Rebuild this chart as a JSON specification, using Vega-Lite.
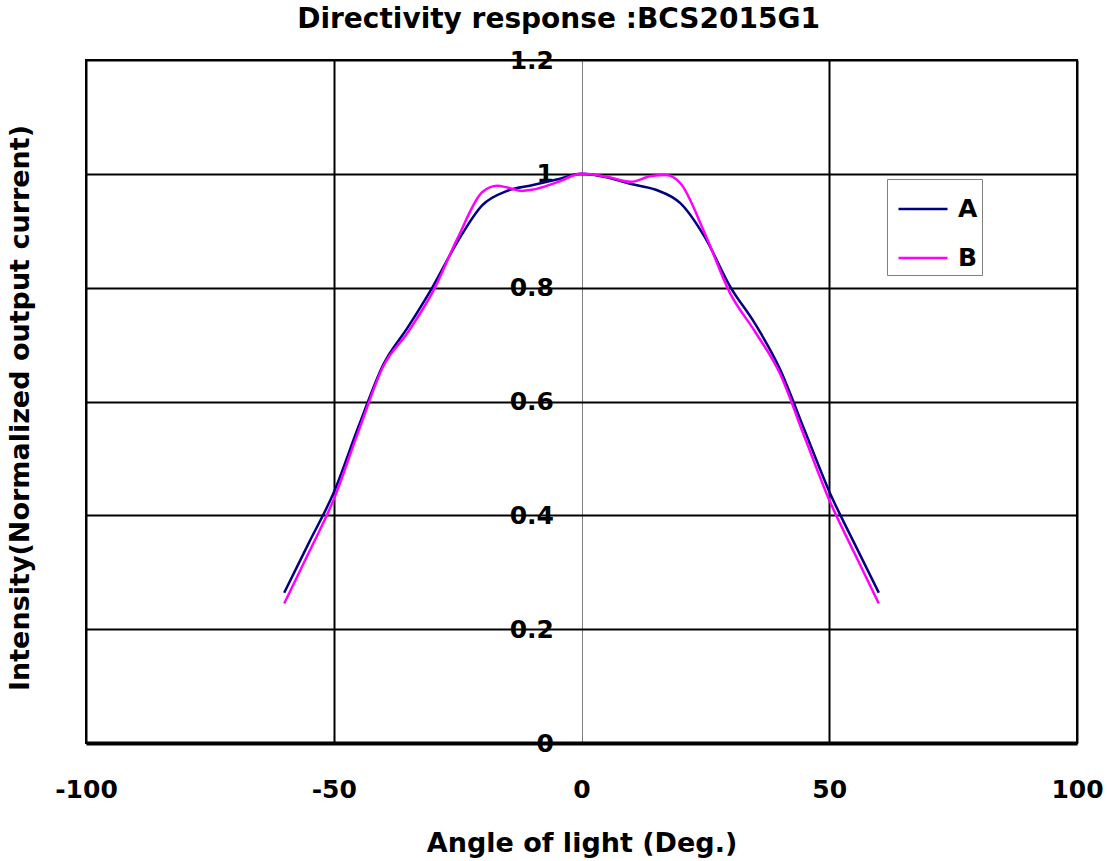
{
  "$schema": "https://vega.github.io/schema/vega-lite/v6.json",
  "autosize": "none",
  "width": 991,
  "height": 683,
  "padding": {"left": 86, "top": 60, "right": 30, "bottom": 118},
  "background": "white",
  "title": {
    "text": "Directivity response :BCS2015G1",
    "font": "DejaVu Sans",
    "fontWeight": "bold",
    "fontSize": 28,
    "color": "black",
    "anchor": "middle",
    "frame": "group",
    "dx": -23,
    "baseline": "alphabetic",
    "offset": -8
  },
  "data": {
    "values": [
      {"angle": -60, "intensity": 0.264, "series": "A"},
      {"angle": -55, "intensity": 0.352, "series": "A"},
      {"angle": -50, "intensity": 0.440, "series": "A"},
      {"angle": -45, "intensity": 0.556, "series": "A"},
      {"angle": -40, "intensity": 0.665, "series": "A"},
      {"angle": -35, "intensity": 0.731, "series": "A"},
      {"angle": -30, "intensity": 0.802, "series": "A"},
      {"angle": -25, "intensity": 0.881, "series": "A"},
      {"angle": -20, "intensity": 0.945, "series": "A"},
      {"angle": -15, "intensity": 0.970, "series": "A"},
      {"angle": -10, "intensity": 0.980, "series": "A"},
      {"angle": -5, "intensity": 0.990, "series": "A"},
      {"angle": 0, "intensity": 1.000, "series": "A"},
      {"angle": 5, "intensity": 0.994, "series": "A"},
      {"angle": 10, "intensity": 0.982, "series": "A"},
      {"angle": 15, "intensity": 0.972, "series": "A"},
      {"angle": 20, "intensity": 0.948, "series": "A"},
      {"angle": 25, "intensity": 0.887, "series": "A"},
      {"angle": 30, "intensity": 0.802, "series": "A"},
      {"angle": 35, "intensity": 0.737, "series": "A"},
      {"angle": 40, "intensity": 0.658, "series": "A"},
      {"angle": 45, "intensity": 0.550, "series": "A"},
      {"angle": 50, "intensity": 0.442, "series": "A"},
      {"angle": 55, "intensity": 0.352, "series": "A"},
      {"angle": 60, "intensity": 0.264, "series": "A"},
      {"angle": -60, "intensity": 0.245, "series": "B"},
      {"angle": -55, "intensity": 0.335, "series": "B"},
      {"angle": -50, "intensity": 0.428, "series": "B"},
      {"angle": -45, "intensity": 0.548, "series": "B"},
      {"angle": -40, "intensity": 0.662, "series": "B"},
      {"angle": -35, "intensity": 0.722, "series": "B"},
      {"angle": -30, "intensity": 0.793, "series": "B"},
      {"angle": -25, "intensity": 0.887, "series": "B"},
      {"angle": -20, "intensity": 0.968, "series": "B"},
      {"angle": -17, "intensity": 0.979, "series": "B"},
      {"angle": -15, "intensity": 0.976, "series": "B"},
      {"angle": -12, "intensity": 0.970, "series": "B"},
      {"angle": -10, "intensity": 0.972, "series": "B"},
      {"angle": -5, "intensity": 0.985, "series": "B"},
      {"angle": 0, "intensity": 1.000, "series": "B"},
      {"angle": 5, "intensity": 0.995, "series": "B"},
      {"angle": 10, "intensity": 0.986, "series": "B"},
      {"angle": 14, "intensity": 0.996, "series": "B"},
      {"angle": 17, "intensity": 0.998, "series": "B"},
      {"angle": 20, "intensity": 0.983, "series": "B"},
      {"angle": 25, "intensity": 0.893, "series": "B"},
      {"angle": 30, "intensity": 0.790, "series": "B"},
      {"angle": 35, "intensity": 0.723, "series": "B"},
      {"angle": 40, "intensity": 0.650, "series": "B"},
      {"angle": 45, "intensity": 0.538, "series": "B"},
      {"angle": 50, "intensity": 0.427, "series": "B"},
      {"angle": 55, "intensity": 0.335, "series": "B"},
      {"angle": 60, "intensity": 0.245, "series": "B"}
    ]
  },
  "mark": {"type": "line", "interpolate": "monotone", "strokeWidth": 2.5, "clip": true},
  "encoding": {
    "x": {
      "field": "angle",
      "type": "quantitative",
      "scale": {"domain": [-100, 100], "nice": false, "zero": false},
      "axis": {
        "title": "Angle of light (Deg.)",
        "values": [-100, -50, 0, 50, 100],
        "labelExpr": "toString(datum.value)",
        "grid": true,
        "gridColor": {"condition": {"test": "datum.value === 0", "value": "#808080"}, "value": "black"},
        "gridWidth": {"condition": {"test": "datum.value === 0", "value": 1}, "value": 2},
        "domain": true,
        "domainColor": "black",
        "domainWidth": 4,
        "ticks": false,
        "labelFont": "DejaVu Sans",
        "labelFontWeight": "bold",
        "labelFontSize": 25,
        "labelColor": "black",
        "labelPadding": 34,
        "labelFlush": false,
        "titleFont": "DejaVu Sans",
        "titleFontWeight": "bold",
        "titleFontSize": 27,
        "titleColor": "black",
        "titlePadding": 28
      }
    },
    "y": {
      "field": "intensity",
      "type": "quantitative",
      "scale": {"domain": [0, 1.2], "nice": false},
      "axis": {
        "title": "Intensity(Normalized output current)",
        "values": [0, 0.2, 0.4, 0.6, 0.8, 1, 1.2],
        "labelExpr": "toString(datum.value)",
        "offset": -495.5,
        "grid": true,
        "gridColor": "black",
        "gridWidth": 2,
        "domain": false,
        "ticks": false,
        "labelFont": "DejaVu Sans",
        "labelFontWeight": "bold",
        "labelFontSize": 25,
        "labelColor": "black",
        "labelPadding": 28,
        "labelFlush": false,
        "titleFont": "DejaVu Sans",
        "titleFontWeight": "bold",
        "titleFontSize": 27,
        "titleColor": "black",
        "titleAngle": -90,
        "titleX": -561.5,
        "titleY": 347.5,
        "titleAlign": "center",
        "titleBaseline": "middle"
      }
    },
    "color": {
      "field": "series",
      "type": "nominal",
      "scale": {"domain": ["A", "B"], "range": ["#000080", "#FF00FF"]},
      "legend": {
        "title": null,
        "orient": "none",
        "legendX": 801,
        "legendY": 119,
        "strokeColor": "#808080",
        "fillColor": "white",
        "padding": 4,
        "symbolType": "stroke",
        "symbolSize": 2401,
        "symbolOffset": 6,
        "symbolStrokeWidth": 2.5,
        "labelExpr": "datum.label + ' '",
        "labelFont": "DejaVu Sans",
        "labelFontWeight": "bold",
        "labelFontSize": 25,
        "labelColor": "black",
        "labelOffset": 9,
        "rowPadding": 10
      }
    }
  },
  "config": {
    "view": {"stroke": "black", "strokeWidth": 2}
  }
}
